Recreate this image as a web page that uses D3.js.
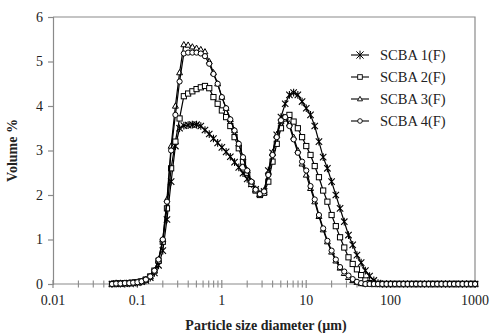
<!DOCTYPE html>
<html>
<head>
<meta charset="utf-8">
<script src="https://cdn.jsdelivr.net/npm/d3@7"></script>
<style>
  body { margin: 0; background: #fff; }
  svg { display: block; font-family: "Liberation Serif", "Times New Roman", serif; }
</style>
</head>
<body>
<script>
// Particle sizes (µm), laser diffraction bins
let sizes = [
  0.050, 0.056, 0.063, 0.071, 0.080, 0.089, 0.100, 0.112, 0.126, 0.142,
  0.159, 0.178, 0.200, 0.224, 0.251, 0.282, 0.316, 0.355, 0.399, 0.448,
  0.502, 0.564, 0.632, 0.710, 0.796, 0.893, 1.002, 1.125, 1.262, 1.416,
  1.589, 1.783, 2.000, 2.244, 2.518, 2.825, 3.170, 3.557, 3.991, 4.477,
  5.024, 5.637, 6.325, 7.096, 7.962, 8.934, 10.02, 11.25, 12.62, 14.16,
  15.89, 17.83, 20.00, 22.44, 25.18, 28.25, 31.70, 35.57, 39.91, 44.77,
  50.24, 56.37, 63.25, 70.96, 79.62, 89.34, 100.2, 112.5, 126.2, 141.6,
  158.9, 178.3, 200.0, 224.4, 251.8, 282.5, 317.0, 355.7, 399.1, 447.7,
  502.4, 563.7, 632.5, 709.6, 796.2, 893.4, 1002
];

let scba1 = [
  0, 0.01, 0.01, 0.01, 0.02, 0.02, 0.03, 0.05, 0.08, 0.14,
  0.25, 0.42, 0.75, 1.45, 2.3, 3.1, 3.5, 3.56, 3.57, 3.58,
  3.58, 3.55, 3.46, 3.37, 3.27, 3.17, 3.07, 2.97, 2.86, 2.74,
  2.62, 2.49, 2.36, 2.25, 2.13, 2.03, 2.08, 2.55, 2.95, 3.35,
  3.75, 4.05, 4.25, 4.3, 4.25, 4.1, 3.95, 3.8, 3.55, 3.2,
  2.85, 2.6, 2.3, 2.0, 1.7, 1.4, 1.1, 0.88, 0.65, 0.48,
  0.3, 0.18, 0.08, 0.02, 0, 0, 0, 0, 0, 0,
  0, 0, 0, 0, 0, 0, 0, 0, 0, 0,
  0, 0, 0, 0, 0, 0, 0
];

let scba2 = [
  0, 0.01, 0.01, 0.02, 0.02, 0.03, 0.04, 0.06, 0.1, 0.17,
  0.3, 0.52, 0.95, 1.7, 2.6, 3.2, 3.72, 4.22, 4.28, 4.33,
  4.38, 4.42, 4.45, 4.4, 4.2, 4.05, 3.9, 3.75, 3.55, 3.3,
  3.05, 2.75, 2.5, 2.25, 2.1, 2.0, 2.05, 2.3, 2.75, 3.15,
  3.5, 3.72, 3.8, 3.65, 3.5, 3.3, 3.1, 2.9, 2.65, 2.4,
  2.1, 1.85, 1.55, 1.3, 1.05, 0.82, 0.6, 0.45, 0.33, 0.2,
  0.08, 0.02, 0, 0, 0, 0, 0, 0, 0, 0,
  0, 0, 0, 0, 0, 0, 0, 0, 0, 0,
  0, 0, 0, 0, 0, 0, 0
];

let scba3 = [
  0, 0.01, 0.01, 0.02, 0.02, 0.03, 0.04, 0.06, 0.1, 0.17,
  0.3, 0.55, 1.0, 1.9, 3.1, 4.0, 4.75, 5.38, 5.37, 5.33,
  5.3, 5.27, 5.22, 5.0, 4.75, 4.5, 4.2, 3.95, 3.7, 3.45,
  3.15, 2.85, 2.55, 2.3, 2.12, 2.02, 2.1, 2.5, 2.95, 3.35,
  3.65, 3.75, 3.6, 3.3, 3.0, 2.7, 2.45, 2.15, 1.85, 1.52,
  1.22, 0.95, 0.72, 0.52, 0.36, 0.24, 0.15, 0.08, 0.04, 0.01,
  0, 0, 0, 0, 0, 0, 0, 0, 0, 0,
  0, 0, 0, 0, 0, 0, 0, 0, 0, 0,
  0, 0, 0, 0, 0, 0, 0
];

let scba4 = [
  0, 0.01, 0.01, 0.02, 0.02, 0.03, 0.04, 0.06, 0.1, 0.17,
  0.3, 0.55, 1.0, 1.85, 3.0, 3.8, 4.55, 5.18, 5.2, 5.2,
  5.2, 5.18, 5.12, 4.95, 4.72, 4.5, 4.2, 3.95, 3.7, 3.45,
  3.15, 2.85, 2.55, 2.3, 2.12, 2.02, 2.08, 2.45, 2.9, 3.3,
  3.68, 3.75, 3.55, 3.25, 2.95, 2.75, 2.55, 2.2, 1.9, 1.55,
  1.25, 0.97, 0.75, 0.55, 0.38, 0.28, 0.19, 0.11, 0.05, 0.02,
  0, 0, 0, 0, 0, 0, 0, 0, 0, 0,
  0, 0, 0, 0, 0, 0, 0, 0, 0, 0,
  0, 0, 0, 0, 0, 0, 0
];

let seriesNames = ["SCBA 1(F)", "SCBA 2(F)", "SCBA 3(F)", "SCBA 4(F)"];
let seriesValues = [scba1, scba2, scba3, scba4];
let markerTypes = ["star", "square", "triangle", "circle"];

let xTickValues = [0.01, 0.1, 1, 10, 100, 1000];
let xTickLabels = ["0.01", "0.1", "1", "10", "100", "1000"];
let yTickValues = [0, 1, 2, 3, 4, 5, 6];

// Layout
let W = 493, H = 334;
let m = { left: 53, right: 475, top: 17, bottom: 284 };
let axisGray = "#8a8a8a";
let ink = "#222";

let svg = d3.select("body").append("svg")
  .attr("width", W)
  .attr("height", H);

let x = d3.scaleLog().domain([0.01, 1000]).range([m.left, m.right]);
let y = d3.scaleLinear().domain([0, 6]).range([m.bottom, m.top]);

// Frame (top + right)
svg.append("path")
  .attr("d", `M${m.left},${m.top}H${m.right}V${m.bottom}`)
  .attr("fill", "none")
  .attr("stroke", axisGray)
  .attr("stroke-width", 1.2);

// Y axis
let yAxis = svg.append("g")
  .attr("transform", `translate(${m.left},0)`)
  .call(d3.axisLeft(y).tickValues(yTickValues).tickSize(5).tickPadding(5).tickFormat(d3.format("d")));
yAxis.select(".domain").attr("stroke", axisGray).attr("stroke-width", 1.2);
yAxis.selectAll(".tick line").attr("stroke", axisGray).attr("stroke-width", 1.2);
yAxis.selectAll(".tick text")
  .attr("font-size", 14)
  .attr("font-family", "Liberation Serif")
  .attr("fill", ink);

// X axis: minor ticks crossing the line, major at decades
let minorTicks = [];
for (let dec = 0.01; dec < 999; dec *= 10) {
  for (let k = 2; k <= 9; k++) minorTicks.push(dec * k);
}
let xg = svg.append("g");
xg.append("line")
  .attr("x1", m.left).attr("x2", m.right)
  .attr("y1", m.bottom).attr("y2", m.bottom)
  .attr("stroke", axisGray).attr("stroke-width", 1.2);
xg.selectAll("line.minor")
  .data(minorTicks)
  .join("line")
  .attr("class", "minor")
  .attr("x1", d => x(d)).attr("x2", d => x(d))
  .attr("y1", m.bottom - 3.5).attr("y2", m.bottom + 3.5)
  .attr("stroke", axisGray).attr("stroke-width", 1.1);
xg.selectAll("line.major")
  .data(xTickValues)
  .join("line")
  .attr("class", "major")
  .attr("x1", d => x(d)).attr("x2", d => x(d))
  .attr("y1", m.bottom - 4).attr("y2", m.bottom + 4)
  .attr("stroke", axisGray).attr("stroke-width", 1.2);
xg.selectAll("text")
  .data(xTickValues)
  .join("text")
  .attr("x", d => x(d))
  .attr("y", m.bottom + 21)
  .attr("text-anchor", "middle")
  .attr("font-size", 14)
  .attr("fill", ink)
  .text((d, i) => xTickLabels[i]);

// Axis titles
svg.append("text")
  .attr("x", (m.left + m.right) / 2 + 2)
  .attr("y", 330)
  .attr("text-anchor", "middle")
  .attr("font-size", 14)
  .attr("font-weight", "bold")
  .attr("fill", ink)
  .text("Particle size diameter (µm)");

svg.append("text")
  .attr("transform", `translate(17,${(m.top + m.bottom) / 2}) rotate(-90)`)
  .attr("text-anchor", "middle")
  .attr("font-size", 14)
  .attr("font-weight", "bold")
  .attr("fill", ink)
  .text("Volume %");

// Marker drawing
function drawMarker(g, type, s, sw) {
  if (type === "star") {
    g.append("path")
      .attr("d", `M${-s},${-s}L${s},${s}M${-s},${s}L${s},${-s}M0,${-s * 1.2}V${s * 1.2}`)
      .attr("stroke", "#000").attr("stroke-width", sw + 0.1).attr("fill", "none");
  } else if (type === "square") {
    g.append("rect")
      .attr("x", -s).attr("y", -s).attr("width", 2 * s).attr("height", 2 * s)
      .attr("fill", "#fff").attr("stroke", "#000").attr("stroke-width", sw);
  } else if (type === "triangle") {
    g.append("path")
      .attr("d", `M0,${-s * 1.15}L${s * 1.1},${s * 0.8}L${-s * 1.1},${s * 0.8}Z`)
      .attr("fill", "#fff").attr("stroke", "#000").attr("stroke-width", sw);
  } else {
    g.append("circle")
      .attr("r", s)
      .attr("fill", "#fff").attr("stroke", "#000").attr("stroke-width", sw);
  }
}

let line = d3.line()
  .x(d => x(d[0]))
  .y(d => y(d[1]));

let plotSize = { star: 3.2, square: 2.6, triangle: 2.7, circle: 2.6 };

seriesValues.forEach((vals, si) => {
  let pts = sizes.map((s, i) => [s, vals[i]]);
  let g = svg.append("g");
  g.append("path")
    .datum(pts)
    .attr("d", line)
    .attr("fill", "none")
    .attr("stroke", "#000")
    .attr("stroke-width", 1.2);
  g.selectAll("g.m")
    .data(pts)
    .join("g")
    .attr("class", "m")
    .attr("transform", d => `translate(${x(d[0])},${y(d[1])})`)
    .each(function () { drawMarker(d3.select(this), markerTypes[si], plotSize[markerTypes[si]], 1); });
});

// Legend
let legend = svg.append("g");
seriesNames.forEach((name, i) => {
  let cy = 55 + i * 22;
  let row = legend.append("g");
  row.append("line")
    .attr("x1", 351).attr("x2", 369)
    .attr("y1", cy).attr("y2", cy)
    .attr("stroke", "#000").attr("stroke-width", 1.1);
  let mk = row.append("g").attr("transform", `translate(360,${cy})`);
  drawMarker(mk, markerTypes[i], markerTypes[i] === "star" ? 3.6 : 2.3, 0.9);
  row.append("text")
    .attr("x", 380)
    .attr("y", cy + 5)
    .attr("font-size", 14.5)
    .attr("fill", ink)
    .text(name);
});
</script>
</body>
</html>
